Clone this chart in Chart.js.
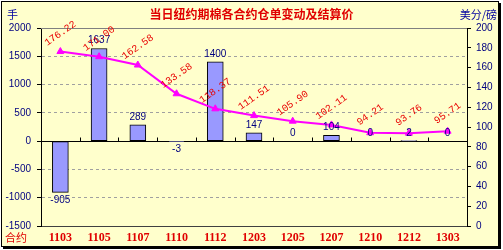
<!DOCTYPE html>
<html>
<head>
<meta charset="utf-8">
<script src="https://cdn.jsdelivr.net/npm/chart.js@4"></script>
<style>
  html, body { margin: 0; padding: 0; background: #fff; }
  #frame {
    position: absolute; left: 1px; top: 1px; width: 496px; height: 244px;
    border: 1px solid #000; background: #FFFFCC;
    box-shadow: 2px 2px 0 #000;
  }
  #wrap { position: absolute; left: 0; top: 0; width: 503px; height: 250px; }
  .txt { position: absolute; line-height: 14px; white-space: nowrap; font-family: "Noto Sans CJK SC", sans-serif; }
  #title { left: 0; width: 503px; top: 7px; text-align: center; font-size: 12px; font-weight: bold; color: #E00000; }
  #unitL { left: 7px; top: 7px; font-size: 11px; color: #0000A0; }
  #unitR { right: 6px; top: 7px; font-size: 11px; color: #0000A0; }
  #unitX { left: 5px; top: 230px; font-size: 11px; color: #E00000; }
</style>
</head>
<body>
<div id="frame"></div>
<div id="wrap"><canvas id="warrantChart" width="503" height="250"></canvas></div>
<div class="txt" id="title"></div>
<div class="txt" id="unitL"></div>
<div class="txt" id="unitR"></div>
<div class="txt" id="unitX"></div>
<script>
// contracts
const contracts = ['1103', '1105', '1107', '1110', '1112', '1203', '1205', '1207', '1210', '1212', '1303'];
// warrant change (lots) - bars, left axis
const warrantChange = [-905, 1637, 289, -3, 1400, 147, 0, 104, 0, 2, 0];
// settlement price (cents/lb) - line, right axis
const settlePrice = [176.22, 171.00, 162.58, 133.58, 118.37, 111.51, 105.90, 102.11, 94.21, 93.76, 95.71];
const settleLabels = ['176.22', '171.00', '162.58', '133.58', '118.37', '111.51', '105.90', '102.11', '94.21', '93.76', '95.71'];

const titleText = '当日纽约期棉各合约仓单变动及结算价';
const leftUnit = '手';
const rightUnit = '美分/磅';
const catUnit = '合约';

document.getElementById('title').textContent = titleText;
document.getElementById('unitL').textContent = leftUnit;
document.getElementById('unitR').textContent = rightUnit;
document.getElementById('unitX').textContent = catUnit;

const numFont = '10px "Liberation Sans Narrow", "Liberation Sans", sans-serif';

const decorPlugin = {
    id: 'decor',
    beforeDatasetsDraw(chart) {
        const ctx = chart.ctx;
        const area = chart.chartArea;
        const x = chart.scales.x;
        const y = chart.scales.y;
        ctx.save();
        // plot top edge
        ctx.strokeStyle = '#808080';
        ctx.lineWidth = 1;
        ctx.setLineDash([]);
        ctx.beginPath();
        ctx.moveTo(area.left, Math.round(area.top) + 0.5);
        ctx.lineTo(area.right, Math.round(area.top) + 0.5);
        ctx.stroke();
        // zero line with category ticks
        const y0 = Math.round(y.getPixelForValue(0)) + 0.5;
        ctx.strokeStyle = '#000';
        ctx.beginPath();
        ctx.moveTo(area.left, y0);
        ctx.lineTo(area.right, y0);
        for (let i = 0; i < contracts.length - 1; i++) {
            const bx = Math.round((x.getPixelForValue(i) + x.getPixelForValue(i + 1)) / 2) + 0.5;
            ctx.moveTo(bx, y0);
            ctx.lineTo(bx, y0 - 4);
        }
        ctx.stroke();
        ctx.restore();
    },
    afterDatasetsDraw(chart) {
        const ctx = chart.ctx;
        ctx.save();
        // bar value labels
        const barMeta = chart.getDatasetMeta(1);
        ctx.font = numFont;
        ctx.fillStyle = '#000080';
        ctx.textAlign = 'center';
        ctx.textBaseline = 'middle';
        barMeta.data.forEach(function (el, i) {
            const v = warrantChange[i];
            const ty = v < 0 ? el.y + 8 : el.y - 8;
            ctx.fillText(String(v), el.x, ty);
        });
        // price labels, rotated
        const lineMeta = chart.getDatasetMeta(0);
        ctx.font = '10px "Liberation Mono", monospace';
        ctx.fillStyle = '#E80000';
        lineMeta.data.forEach(function (el, i) {
            ctx.save();
            ctx.translate(el.x, el.y - 18);
            ctx.rotate(-35 * Math.PI / 180);
            ctx.fillText(settleLabels[i], 0, 0);
            ctx.restore();
        });
        ctx.restore();
    }
};

const ctx = document.getElementById('warrantChart').getContext('2d');
const chart = new Chart(ctx, {
    data: {
        labels: contracts,
        datasets: [
            {
                type: 'line',
                data: settlePrice,
                yAxisID: 'y1',
                borderColor: '#FF00FF',
                backgroundColor: '#FF00FF',
                borderWidth: 2,
                pointStyle: 'triangle',
                pointRadius: 4,
                pointBorderWidth: 1,
                tension: 0,
                order: 0
            },
            {
                type: 'bar',
                data: warrantChange,
                yAxisID: 'y',
                backgroundColor: '#9999FF',
                borderColor: '#000',
                borderWidth: 1,
                borderSkipped: false,
                barThickness: 16,
                order: 1
            }
        ]
    },
    options: {
        responsive: false,
        animation: false,
        layout: { padding: { top: 28, left: 0, right: 0, bottom: 0 } },
        plugins: {
            legend: { display: false },
            title: { display: false },
            tooltip: { enabled: false }
        },
        scales: {
            x: {
                offset: true,
                grid: { display: false, drawTicks: false },
                border: { display: true, color: '#404040' },
                ticks: {
                    color: '#E00000',
                    padding: 5,
                    maxRotation: 0,
                    autoSkip: false,
                    font: { family: '"Liberation Serif", serif', size: 12, weight: 'bold' }
                },
                afterFit: function (s) { s.height = 24; }
            },
            y: {
                position: 'left',
                min: -1500,
                max: 2000,
                ticks: {
                    stepSize: 500,
                    color: '#000080',
                    padding: 6,
                    font: { family: '"Liberation Sans Narrow", "Liberation Sans", sans-serif', size: 10 },
                    callback: function (v) { return String(v); }
                },
                grid: {
                    tickLength: 4,
                    tickColor: '#000',
                    color: function (c) {
                        const v = c.tick && c.tick.value;
                        if (v === 0 || v === 2000 || v === -1500) return 'rgba(0,0,0,0)';
                        return '#A0A0A0';
                    }
                },
                border: { display: true, color: '#000', dash: [3, 3] },
                afterFit: function (s) { s.width = 41; }
            },
            y1: {
                position: 'right',
                min: 0,
                max: 200,
                ticks: {
                    stepSize: 20,
                    color: '#000080',
                    padding: 5,
                    font: { family: '"Liberation Sans Narrow", "Liberation Sans", sans-serif', size: 10 }
                },
                grid: { drawOnChartArea: false, tickLength: 4, tickColor: '#000' },
                border: { display: true, color: '#000' },
                afterFit: function (s) { s.width = 36; }
            }
        }
    },
    plugins: [decorPlugin]
});
</script>
</body>
</html>
